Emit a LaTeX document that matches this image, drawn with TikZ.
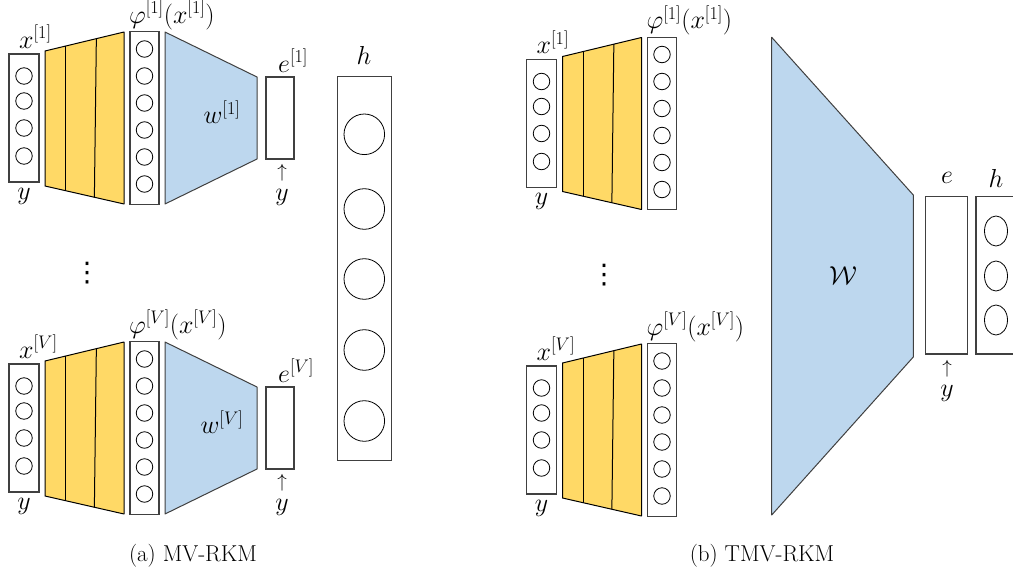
\RequirePackage{fix-cm}
\documentclass[tikz,border=0pt]{standalone}
\usepackage{amsmath}
\usepackage{fontspec}
\newfontfamily\symfont{DejaVu Sans}
\usetikzlibrary{calc,shapes.geometric}
\definecolor{gold}{HTML}{FFD966}
\definecolor{sky}{HTML}{BDD7EE}
\definecolor{edge}{HTML}{404040}
\tikzset{
  box/.style={draw=edge,line width=1.2pt,fill=white,inner sep=0pt,rectangle},
  unit/.style={draw=black,line width=0.8pt,circle,inner sep=0pt,minimum size=16.5pt},
  bigunit/.style={draw=black,line width=0.8pt,circle,inner sep=0pt,minimum size=40.6pt},
  ovalunit/.style={draw=black,line width=0.8pt,ellipse,inner sep=0pt,minimum width=23pt,minimum height=30pt},
  layer/.style={draw=black,line width=1pt,fill=gold,line join=round},
  divider/.style={draw=black,line width=1pt},
  proj/.style={draw=edge,line width=1pt,fill=sky,line join=round},
  lab/.style={inner sep=0pt,font=\fontsize{26}{30}\selectfont},
  arr/.style={inner sep=0pt,font=\fontsize{19}{22}\selectfont},
  dotsym/.style={inner sep=0pt,font=\symfont\fontsize{27}{30}\selectfont},
  captext/.style={inner sep=0pt,font=\fontsize{23}{27}\selectfont}
}
\newcommand\featnet[4]{%
\begin{scope}[shift={#2}]
  \node[box,minimum width=30pt,minimum height=128pt] (#1in) at (24,118) {};
  \foreach \yy [count=\k] in {76,101,128,156} \node[unit] (#1in\k) at (24,\yy) {};
  \coordinate (#1ya) at (45,51);
  \coordinate (#1yb) at (124,32);
  \coordinate (#1yc) at (124,204);
  \coordinate (#1yd) at (45,186);
  \draw[layer] (#1ya) -- (#1yb) -- (#1yc) -- (#1yd) -- cycle;
  \draw[divider] ($(#1ya)!0.26!(#1yb)$) -- ($(#1yd)!0.26!(#1yc)$);
  \draw[divider] ($(#1ya)!0.65!(#1yb)$) -- ($(#1yd)!0.625!(#1yc)$);
  \node[box,minimum width=29pt,minimum height=172.5pt] (#1phi) at (144.5,118) {};
  \foreach \yy [count=\k] in {49,76,103,130,157,184} \node[unit] (#1phi\k) at (144.5,\yy) {};
  \node[lab,anchor=base west] (#1xl) at (19,48) {$#3$};
  \node[lab] (#1yl) at (24,196) {$y$};
  \node[lab,anchor=base west] (#1pl) at (129,23) {$#4$};
\end{scope}}
\newcommand\viewhead[4]{%
\begin{scope}[shift={#2}]
  \draw[proj] (165,32) -- (257,77) -- (257,159) -- (165,204) -- cycle;
  \node[lab] (#1w) at (222,112) {$#3$};
  \node[box,minimum width=28pt,minimum height=82pt] (#1e) at (280,118) {};
  \node[lab,anchor=base west] (#1el) at (278,72) {$#4$};
  \node[arr] (#1ar) at (282,173) {$\uparrow$};
  \node[lab] (#1ey) at (282,197) {$y$};
\end{scope}}
\begin{document}
\begin{tikzpicture}[x=1pt,y=-1pt]
\useasboundingbox (0,0) rectangle (1013,573);
% ---------- panel (a) ----------
\featnet{aa}{(0,0)}{x^{[1]}}{\varphi^{[1]}(x^{[1]})}
\viewhead{aa}{(0,0)}{w^{[1]}}{e^{[1]}}
\featnet{av}{(0,310)}{x^{[V]}}{\varphi^{[V]}(x^{[V]})}
\viewhead{av}{(0,310)}{w^{[V]}}{e^{[V]}}
\node[dotsym] (adots) at (87,273) {⋮};
\node[box,minimum width=54.4pt,minimum height=384pt] (ah) at (364.5,268.7) {};
\foreach \yy [count=\k] in {134.3,209,279,350,421} \node[bigunit] (ah\k) at (364.3,\yy) {};
\node[lab] (ahl) at (364,55) {$h$};
\node[captext] (acap) at (193,556) {(a) MV-RKM};
% ---------- panel (b) ----------
\featnet{ba}{(517.5,5.5)}{x^{[1]}}{\varphi^{[1]}(x^{[1]})}
\featnet{bv}{(517.5,312)}{x^{[V]}}{\varphi^{[V]}(x^{[V]})}
\node[dotsym] (bdots) at (604,275) {⋮};
\draw[proj] (771.7,37.3) -- (913.3,195) -- (913.3,357) -- (771.7,515) -- cycle;
\node[lab] (bW) at (843,276) {$\mathcal{W}$};
\node[box,minimum width=41.6pt,minimum height=157.3pt] (be) at (946.5,275.4) {};
\node[lab] (bel) at (947,178) {$e$};
\node[arr] (bar) at (947,369) {$\uparrow$};
\node[lab] (bey) at (947,393) {$y$};
\node[box,minimum width=41.6pt,minimum height=157.3pt] (bh) at (996.8,275.4) {};
\foreach \yy [count=\k] in {231,276,320} \node[ovalunit] (bh\k) at (996,\yy) {};
\node[lab] (bhl) at (996,178) {$h$};
\node[captext] (bcap) at (762,556) {(b) TMV-RKM};
\end{tikzpicture}
\end{document}
